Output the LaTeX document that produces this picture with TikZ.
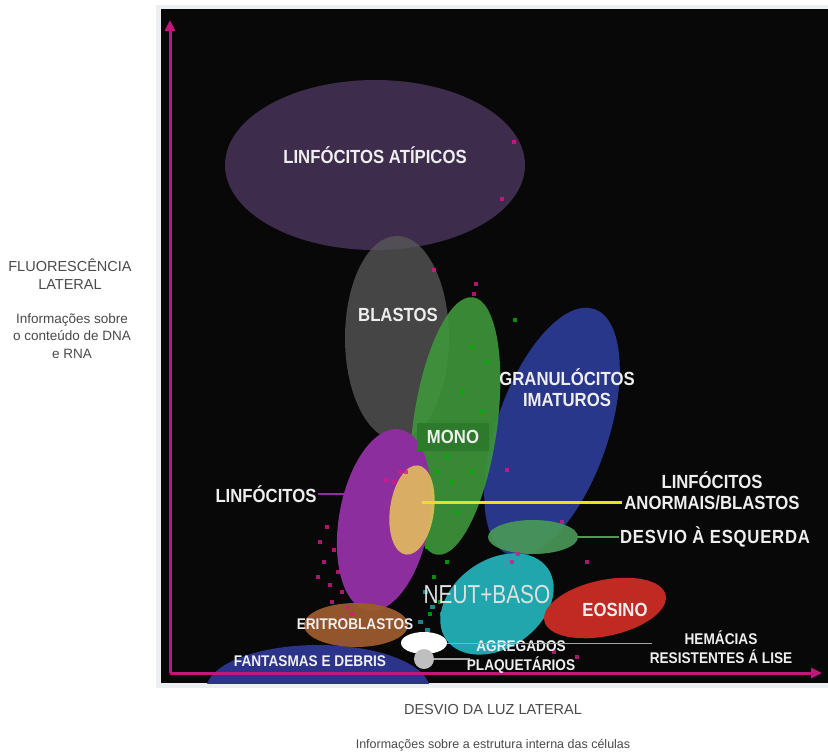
\documentclass[tikz,border=0pt]{standalone}
\usepackage{fontspec}
\setmainfont{Liberation Sans}
\newfontfamily\condfont[FakeStretch=0.88]{Liberation Sans}
\newfontfamily\thinfont[FakeStretch=0.8]{Liberation Sans}
\usetikzlibrary{arrows.meta}
\definecolor{axismag}{HTML}{C0187A}
\definecolor{atipico}{HTML}{3E2C4C}
\definecolor{blastogray}{HTML}{5A5A5A}
\definecolor{monogreen}{HTML}{3E963C}
\definecolor{monobox}{HTML}{2E7A2C}
\definecolor{granblue}{HTML}{2B3A92}
\definecolor{linfpurple}{HTML}{8C2E9E}
\definecolor{anormyellow}{HTML}{E8C45A}
\definecolor{lineyellow}{HTML}{E6E21E}
\definecolor{desviogreen}{HTML}{4A9A58}
\definecolor{neutcyan}{HTML}{22A6AE}
\definecolor{eosred}{HTML}{C02A22}
\definecolor{eritrobrown}{HTML}{9B5B2E}
\definecolor{fantblue}{HTML}{2B338A}
\definecolor{plaqgray}{HTML}{BFBFBF}
\definecolor{labelwhite}{HTML}{EEEEEE}
\definecolor{outertext}{HTML}{4A4A4A}
\definecolor{framegray}{HTML}{ECEFF2}

\tikzset{
  lbl/.style={text=labelwhite,font=\condfont\bfseries\fontsize{19}{21}\selectfont,inner sep=1pt,align=center},
  smalllbl/.style={text=labelwhite,font=\condfont\bfseries\fontsize{15.5}{19}\selectfont,inner sep=1pt,align=center},
  outer/.style={text=outertext,font=\fontsize{14.5}{18}\selectfont,inner sep=1pt,align=center},
  dot/.style={fill=#1,opacity=.8}
}

\begin{document}
\begin{tikzpicture}[x=1pt,y=-1pt]
\useasboundingbox (0,0) rectangle (828,753);
\fill[white] (0,0) rectangle (828,753);
\fill[framegray] (156,5) rectangle (828,688);
\fill[black!97] (161,9) rectangle (828,683);

\begin{scope}
\clip (161,9) rectangle (828,683);
\fill[atipico] (375,165) ellipse (150 and 85);
\fill[blastogray,opacity=.75] (397,338) ellipse (52 and 102);
\fill[granblue,opacity=.95,rotate around={-19:(552,432)}] (552,432) ellipse (56 and 130);
\fill[monogreen,opacity=.9,rotate around={-8:(455,426)}] (455,426) ellipse (42 and 130);
\fill[linfpurple,rotate around={-10:(384,520)}] (384,520) ellipse (45 and 92);
\fill[anormyellow,opacity=.85,rotate around={-8:(412,510)}] (412,510) ellipse (22 and 45);
\fill[neutcyan,rotate around={35:(497,604)}] (497,604) ellipse (62 and 44);
\fill[desviogreen,opacity=.9] (533,537) ellipse (45 and 17);
\fill[eosred,rotate around={12:(605,608)}] (605,608) ellipse (62 and 28);
\fill[fantblue] (318,690) ellipse (112 and 45);
\fill[eritrobrown,opacity=.95] (356,625) ellipse (52 and 22);

\foreach \px/\py in {325/525,318/540,332/548,322/560,336/570,328/583,340/590,316/575,330/600,345/605,
  340/618,350/612,512/140,500/197,432/268,474/282,472/292,398/470,392/480,404/470,384/478,
  505/468,510/560,516/552,560/520,585/560,575/655,552/650}
  \fill[dot=magenta!80!violet] (\px,\py) rectangle ++(4,4);
\foreach \px/\py in {513/318,430/440,445/455,435/470,450/480,440/500,455/510,425/545,445/560,
  470/470,480/410,460/390,432/575,438/600,428/612,470/345,485/360}
  \fill[dot=green!70!black] (\px,\py) rectangle ++(4,4);
\foreach \px/\py in {423/590,430/605,440/612,418/620,425/628}
  \fill[dot=neutcyan] (\px,\py) rectangle ++(5,4);
\end{scope}

\fill[white] (424,643) ellipse (23 and 11);
\fill[plaqgray] (424,659) circle (10);

\coordinate (orig) at (170,673);
\coordinate (ytop) at (170,20);
\coordinate (xend) at (822,673);
\draw[axismag,line width=3pt,-{Triangle[length=11pt,width=10pt]}] (orig) -- (ytop);
\draw[axismag,line width=3pt,-{Triangle[length=11pt,width=10pt]}] (orig) -- (xend);

\node[lbl] (atip) at (375,155) {LINFÓCITOS ATÍPICOS};
\node[lbl] (blast) at (398,315) {BLASTOS};
\node[lbl,fill=monobox,minimum width=72pt,minimum height=28pt] (mono) at (453,437) {MONO};
\node[lbl] (gran) at (567,388) {GRANULÓCITOS\\IMATUROS};
\node[lbl] (linf) at (266,494) {LINFÓCITOS};
\node[lbl] (anorm) at (712,491) {LINFÓCITOS\\ANORMAIS/BLASTOS};
\node[lbl,font=\condfont\bfseries\fontsize{19}{21}\selectfont\addfontfeature{LetterSpace=4}] (desvio) at (715,537) {DESVIO À ESQUERDA};
\node[text=gray!25,font=\thinfont\fontsize{26}{28}\selectfont,inner sep=1pt] (neut) at (487,595) {NEUT+BASO};
\node[lbl] (eos) at (615,610) {EOSINO};
\node[smalllbl] (eritro) at (355,624) {ERITROBLASTOS};
\node[smalllbl] (fant) at (310,661) {FANTASMAS E DEBRIS};
\node[smalllbl] (agreg) at (521,657) {AGREGADOS\\PLAQUETÁRIOS};
\node[smalllbl] (hema) at (721,647) {HEMÁCIAS\\RESISTENTES Á LISE};

\coordinate (linfend) at (346,494);
\coordinate (yelstart) at (422,502);
\coordinate (yelend) at (622,502);
\coordinate (desstart) at (577,537);
\coordinate (hemstart) at (447,643);
\coordinate (hemend) at (652,643);
\coordinate (plqstart) at (434,659);
\coordinate (plqend) at (470,659);
\draw[linfpurple,line width=2pt] (linf.east) -- (linfend);
\draw[lineyellow,line width=3pt] (yelstart) -- (yelend);
\draw[desviogreen,line width=2pt] (desstart) -- (desvio.west);
\draw[gray!70,line width=1pt] (hemstart) -- (hemend);
\draw[gray!70,line width=1.5pt] (plqstart) -- (plqend);

\node[outer] (fluor) at (70,274) {FLUORESCÊNCIA\\LATERAL};
\node[outer,font=\fontsize{13.5}{17.5}\selectfont] (infodna) at (72,336) {Informações sobre\\o conteúdo de DNA\\e RNA};
\node[outer] (desvluz) at (493,709) {DESVIO DA LUZ LATERAL};
\node[outer,font=\fontsize{12.5}{15}\selectfont] (infocel) at (493,745) {Informações sobre a estrutura interna das células};
\end{tikzpicture}
\end{document}
